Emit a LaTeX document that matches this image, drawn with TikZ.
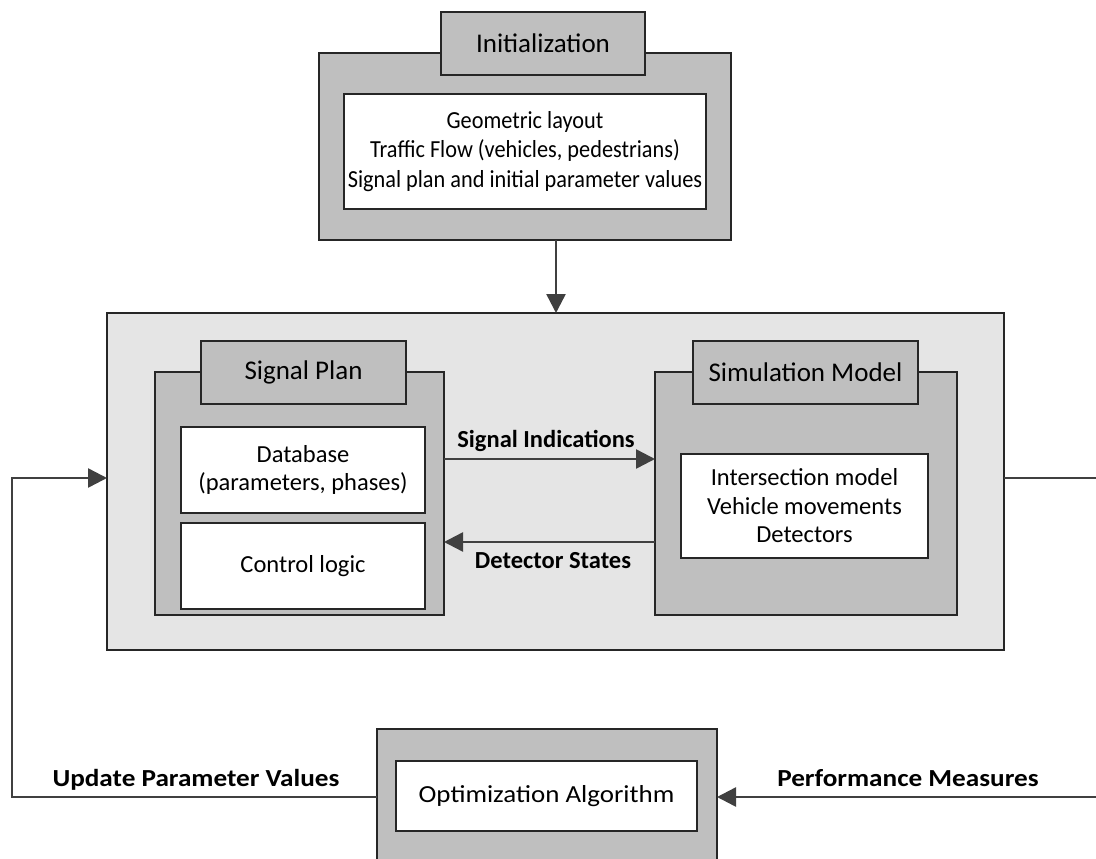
\documentclass[tikz,border=0pt]{standalone}
\usepackage{fontspec}
\usepackage{graphicx}
\setmainfont{Carlito}
\usetikzlibrary{arrows.meta}
\definecolor{boxgray}{HTML}{BFBFBF}
\definecolor{maingray}{HTML}{E5E5E5}
\definecolor{linegray}{HTML}{404040}
\definecolor{edge}{HTML}{262626}
\newcommand{\narrowtxt}[1]{\scalebox{0.91}[1]{#1}}
\newcommand{\widetxt}[1]{\scalebox{1.11}[1]{#1}}
\tikzset{
  frame/.style={draw=edge, line width=1.6pt, inner sep=0pt, outer sep=0pt},
  graybox/.style={frame, fill=boxgray},
  mainbox/.style={frame, fill=maingray},
  whitebox/.style={frame, fill=white, align=center, font=\fontsize{24.5}{28.5}\selectfont},
  tabbox/.style={frame, fill=boxgray, font=\fontsize{27}{32}\selectfont},
  conn/.style={draw=linegray, line width=2.5pt},
  arr/.style={conn, -{Triangle[length=19pt,width=19pt]}},
  lbl/.style={font=\bfseries\fontsize{24.5}{28.5}\selectfont, anchor=base, inner sep=0pt},
}
\begin{document}
\begin{tikzpicture}[x=1pt,y=-1pt]
\clip (0,0) rectangle (1096,859);
\fill[white] (0,0) rectangle (1096,859);

% Initialization
\node[graybox, minimum width=412pt, minimum height=187pt] (init) at (525,146.5) {};
\node[tabbox, minimum width=204pt, minimum height=63pt] (initT) at (543,43.5) {Initialization};
\node[whitebox, minimum width=362pt, minimum height=115pt, font=\fontsize{24.5}{29.5}\selectfont] (initI) at (525,151.5)
  {\narrowtxt{Geometric layout}\\\narrowtxt{Traffic Flow (vehicles, pedestrians)}\\\narrowtxt{Signal plan and initial parameter values}};

% Main box
\node[mainbox, minimum width=897pt, minimum height=337pt] (main) at (555.5,481.5) {};

% Signal plan
\node[graybox, minimum width=289pt, minimum height=243pt] (sp) at (299.5,493.5) {};
\node[tabbox, minimum width=205pt, minimum height=63pt] (spT) at (303.5,372.5) {Signal Plan};
\node[whitebox, minimum width=244pt, minimum height=86pt] (db) at (303,470) {Database\\(parameters, phases)};
\node[whitebox, minimum width=244pt, minimum height=86pt] (cl) at (303,566) {Control logic};

% Simulation model
\node[graybox, minimum width=302pt, minimum height=243pt] (sm) at (806,493.5) {};
\node[tabbox, minimum width=225pt, minimum height=63pt] (smT) at (805.5,372.5) {Simulation Model};
\node[whitebox, minimum width=247pt, minimum height=104pt] (smI) at (804.5,506)
  {Intersection model\\Vehicle movements\\Detectors};

% Optimization
\node[graybox, minimum width=340pt, minimum height=151pt] (opt) at (547,804.5) {};
\node[whitebox, minimum width=301pt, minimum height=70pt] (optI) at (546.5,796)
  {\scalebox{1.1}[1]{Optimization Algorithm}};

% helper coordinates
\coordinate (si) at (0,459);
\coordinate (ds) at (0,542);
\coordinate (fb) at (0,478);
\coordinate (pr) at (1100,797);
\coordinate (pl) at (12,797);

% connectors
\draw[arr] ([xshift=31pt]init.south) -- ([xshift=31pt]init.south |- main.north);
\draw[arr] (sp.east |- si) -- (sm.west |- si);
\draw[arr] (sm.west |- ds) -- (sp.east |- ds);
\draw[arr] (main.east |- fb) -| (pr) -- (opt.east |- pr);
\draw[arr] (opt.west |- pl) -- (pl) |- (main.west |- fb);

% labels
\node[lbl] (lsi) at (546,447) {Signal Indications};
\node[lbl] (lds) at (553,568) {Detector States};
\node[lbl] (lup) at (196,786) {\widetxt{Update Parameter Values}};
\node[lbl] (lpm) at (908,786) {\widetxt{Performance Measures}};
\end{tikzpicture}
\end{document}
